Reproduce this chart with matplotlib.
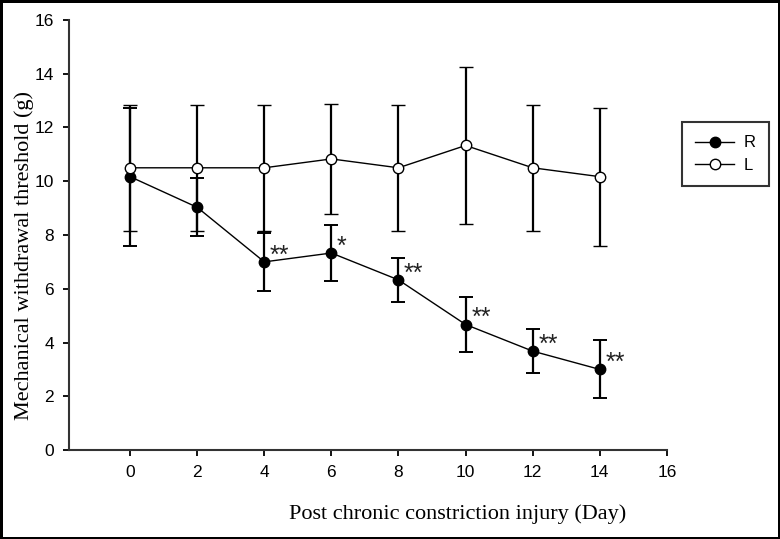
import matplotlib
matplotlib.use("Agg")
import matplotlib.pyplot as plt
from matplotlib.lines import Line2D

days = [0, 2, 4, 6, 8, 10, 12, 14]
r_mean = [10.17, 9.03, 7.00, 7.33, 6.33, 4.67, 3.68, 3.00]
r_err = [2.57, 1.08, 1.08, 1.03, 0.82, 1.03, 0.83, 1.08]
l_mean = [10.50, 10.50, 10.50, 10.83, 10.50, 11.33, 10.50, 10.17]
l_err = [2.35, 2.35, 2.35, 2.05, 2.35, 2.93, 2.35, 2.57]
r_sig = ["", "", "**", "*", "**", "**", "**", "**"]

xticks = [0, 2, 4, 6, 8, 10, 12, 14, 16]
yticks = [0, 2, 4, 6, 8, 10, 12, 14, 16]

serif = ["Liberation Serif", "DejaVu Serif"]
sans = ["Liberation Sans", "DejaVu Sans"]

fig = plt.figure(figsize=(7.8, 5.39), dpi=100)
fig.patch.set_edgecolor("black")
fig.patch.set_linewidth(2.5)
ax = fig.add_axes([0.0885, 0.165, 0.855 - 0.0885, 0.963 - 0.165])

ax.errorbar(days, r_mean, yerr=r_err, color="black", lw=1.0, elinewidth=1.6,
            capsize=5, capthick=1.4, marker="o", ms=7.5, mfc="black", mec="black",
            zorder=3)
ax.errorbar(days, l_mean, yerr=l_err, color="black", lw=1.0, elinewidth=1.6,
            capsize=5, capthick=1.4, marker="o", ms=7.5, mfc="white", mec="black",
            mew=1.0, zorder=4)

for x, y, s in zip(days, r_mean, r_sig):
    if s:
        ax.annotate(s, (x, y), xytext=(4, -4), textcoords="offset points",
                    ha="left", va="bottom", fontsize=18, family=sans, color="#222222")

ax.set_xlim(-1.82, 16)
ax.set_ylim(0, 16)
ax.set_xticks(xticks)
ax.set_yticks(yticks)
ax.set_xticklabels([str(t) for t in xticks], family=sans, fontsize=12.5)
ax.set_yticklabels([str(t) for t in yticks], family=sans, fontsize=12.5)
ax.tick_params(direction="out", length=4, width=1.3, pad=7)
for side in ["top", "right"]:
    ax.spines[side].set_visible(False)
for side in ["left", "bottom"]:
    ax.spines[side].set_linewidth(1.5)
    ax.spines[side].set_color("#333333")

ax.set_xlabel("Post chronic constriction injury (Day)", family=serif, fontsize=16)
ax.xaxis.set_label_coords(0.65, -0.125)
ax.set_ylabel("Mechanical withdrawal threshold (g)", family=serif, fontsize=16)
ax.yaxis.set_label_coords(-0.058, 0.453)

handles = [
    Line2D([], [], color="black", lw=1.0, marker="o", ms=7.5, mfc="black", mec="black"),
    Line2D([], [], color="black", lw=1.0, marker="o", ms=7.5, mfc="white", mec="black"),
]
leg = ax.legend(handles, ["R", "L"], loc="upper left",
                bbox_to_anchor=(682 / 780, 1 - 122 / 539),
                bbox_transform=fig.transFigure, frameon=True, fancybox=False,
                prop={"family": sans, "size": 12}, handlelength=2.3,
                borderaxespad=0, borderpad=0.8, labelspacing=0.45, handletextpad=0.6)
leg.get_frame().set_edgecolor("black")
leg.get_frame().set_linewidth(1.5)

fig.savefig("out.png", dpi=100)
